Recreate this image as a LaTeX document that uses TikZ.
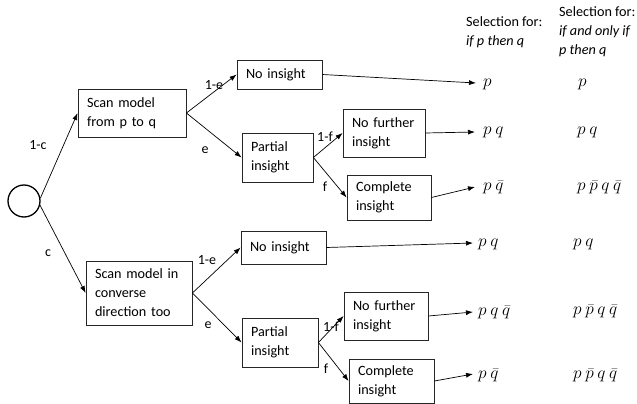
\documentclass[tikz,border=0pt]{standalone}
\usepackage{fontspec}
\setmainfont{Carlito}
\usetikzlibrary{arrows.meta}
\begin{document}
\begin{tikzpicture}[x=1pt,y=-1pt,
 box/.style n args={2}{draw=black!85, line width=0.8pt, inner xsep=9pt, inner ysep=0pt, align=left,
   minimum width=#1, minimum height=#2, text width=#1-18pt,
   font=\fontsize{14.2}{19}\selectfont},
 arr/.style={-{Latex[length=7pt,width=5pt]}, line width=0.7pt},
 lab/.style={font=\fontsize{14}{16}\selectfont, inner sep=0pt},
 res/.style={anchor=west, inner sep=0pt, font=\fontsize{16}{18}\selectfont},
 hdr/.style={anchor=west, inner sep=0pt, align=left, font=\fontsize{14.2}{19}\selectfont},
]
\useasboundingbox (0,0) rectangle (637,404);

% root
\node[draw, circle, line width=1.3pt, minimum size=32pt, inner sep=0pt] (circ) at (24,201) {};

% level 1
\node[box={108pt}{48pt}] (A) at (132,113) {Scan model\\from p to q};
\node[box={106pt}{64pt}] (B) at (139,293) {Scan model in\\converse\\direction too};

% top branch
\node[box={85pt}{29pt}] (C1) at (279.5,74.5) {No insight};
\node[box={71pt}{49pt}] (D1) at (277.5,157.5) {Partial\\insight};
\node[box={82pt}{48pt}] (E1) at (384,133) {No further\\insight};
\node[box={84pt}{45pt}] (F1) at (389,197.5) {Complete\\insight};

% bottom branch
\node[box={85pt}{33pt}] (C2) at (283.5,247.5) {No insight};
\node[box={76pt}{49pt}] (D2) at (280,342.5) {Partial\\insight};
\node[box={84pt}{48pt}] (E2) at (386,316) {No further\\insight};
\node[box={85pt}{44pt}] (F2) at (391.5,381) {Complete\\insight};

% arrow tips
\coordinate (t1) at (476,83);
\coordinate (t2) at (475,132);
\coordinate (t3) at (475,187);
\coordinate (t4) at (473,243);
\coordinate (t5) at (473,312);
\coordinate (t6) at (473,374);

% connectors
\draw[arr] (circ.10) -- (A.west);
\draw[arr] (circ.-15) -- (B.west);
\draw[arr] (A.east) -- (C1.west);
\draw[arr] (A.east) -- (D1.west);
\draw[arr] (D1.east) -- (E1.west);
\draw[arr] (D1.east) -- (F1.west);
\draw[arr] (B.east) -- (C2.west);
\draw[arr] (B.east) -- (D2.west);
\draw[arr] (D2.east) -- (E2.west);
\draw[arr] (D2.east) -- (F2.west);
\draw[arr] (C1.east) -- (t1);
\draw[arr] (E1.east) -- (t2);
\draw[arr] (F1.east) -- (t3);
\draw[arr] (C2.east) -- (t4);
\draw[arr] (E2.east) -- (t5);
\draw[arr] (F2.east) -- (t6);

% edge labels
\node[lab] (l1c) at (38,145) {1-c};
\node[lab] (lc) at (48,253) {c};
\node[lab] (l1e1) at (214,85) {1-e};
\node[lab] (le1) at (205,150) {e};
\node[lab] (l1e2) at (207,260) {1-e};
\node[lab] (le2) at (208,325) {e};
\node[lab] (l1f1) at (325,137) {1-f};
\node[lab] (lf1) at (325,187) {f};
\node[lab] (l1f2) at (331,327) {1-f};
\node[lab] (lf2) at (326,369) {f};

% headers
\node[hdr] (h1) at (466,32.5) {Selection for:\\\textit{if p then q}};
\node[hdr] (h2) at (559,31.5) {Selection for:\\\textit{if and only if}\\\textit{p then q}};

% results column 1
\node[res] (a1) at (483,84) {$p$};
\node[res] (a2) at (483,132) {$p\ q$};
\node[res] (a3) at (483,187) {$p\ \bar{q}$};
\node[res] (a4) at (478,244) {$p\ q$};
\node[res] (a5) at (478,312) {$p\ q\ \bar{q}$};
\node[res] (a6) at (478,375) {$p\ \bar{q}$};

% results column 2
\node[res] (b1) at (578,84) {$p$};
\node[res] (b2) at (577,132) {$p\ q$};
\node[res] (b3) at (577,187) {$p\ \bar{p}\ q\ \bar{q}$};
\node[res] (b4) at (573,244) {$p\ q$};
\node[res] (b5) at (573,311) {$p\ \bar{p}\ q\ \bar{q}$};
\node[res] (b6) at (573,375) {$p\ \bar{p}\ q\ \bar{q}$};
\end{tikzpicture}
\end{document}
